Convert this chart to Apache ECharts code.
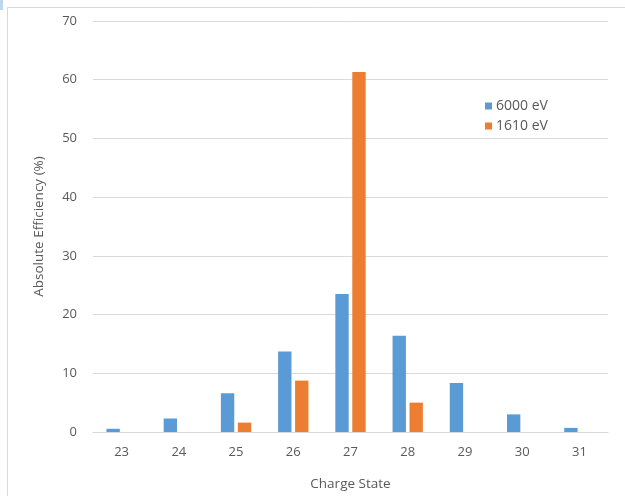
<!DOCTYPE html>
<html>
<head>
<meta charset="utf-8">
<script src="https://cdn.jsdelivr.net/npm/echarts@6/dist/echarts.min.js"></script>
<style>
  html, body { margin: 0; padding: 0; background: #fff; }
  #chart { width: 625px; height: 496px; }
</style>
</head>
<body>
<div id="chart"></div>
<script>
// Charge-state distribution: absolute efficiency per charge state
const chargeStates = ['23', '24', '25', '26', '27', '28', '29', '30', '31'];
const eff6000 = [0.55, 2.3, 6.6, 13.7, 23.5, 16.4, 8.35, 3.0, 0.7];
const eff1610 = [0, 0, 1.6, 8.75, 61.3, 5.0, 0, 0, 0];
const seriesNames = ['6000 eV', '1610 eV'];
const yTicks = { min: 0, max: 70, interval: 10 };

const textColor = '#595959';
const fontFamily = '"Open Sans", "Liberation Sans", sans-serif';

const chart = echarts.init(document.getElementById('chart'), null, { renderer: 'canvas' });
chart.setOption({
  animation: false,
  backgroundColor: '#ffffff',
  textStyle: { fontFamily: fontFamily, color: textColor },
  graphic: [
    {
      type: 'rect',
      shape: { x: 7.5, y: 7.5, width: 700, height: 600 },
      style: { fill: 'none', stroke: '#d9d9d9', lineWidth: 1 },
      silent: true
    },
    {
      type: 'rect',
      shape: { x: 0, y: 0, width: 3, height: 10 },
      style: { fill: '#bdd7ee' },
      silent: true
    }
  ],
  grid: {
    left: 93, right: 17, top: 21, bottom: 64,
    containLabel: false,
    outerBoundsMode: 'none'
  },
  legend: {
    data: seriesNames,
    orient: 'vertical',
    left: 480,
    top: 94,
    itemWidth: 7,
    itemHeight: 7,
    itemGap: 6,
    icon: 'rect',
    textStyle: { color: textColor, fontSize: 14, fontFamily: fontFamily, padding: [0, 0, 0, -1] }
  },
  xAxis: {
    type: 'category',
    data: chargeStates,
    name: 'Charge State',
    nameLocation: 'middle',
    nameGap: 45,
    nameTextStyle: { color: textColor, fontSize: 13.5 },
    axisLine: { lineStyle: { color: '#d9d9d9', width: 1 } },
    axisTick: { show: false },
    axisLabel: { color: textColor, fontSize: 13, margin: 14 }
  },
  yAxis: {
    type: 'value',
    min: yTicks.min,
    max: yTicks.max,
    interval: yTicks.interval,
    name: 'Absolute Efficiency (%)',
    nameLocation: 'middle',
    nameGap: 47,
    nameRotate: 90,
    nameTextStyle: { color: textColor, fontSize: 13.5 },
    axisLine: { show: false },
    axisTick: { show: false },
    axisLabel: { color: textColor, fontSize: 13, margin: 16 },
    splitLine: { lineStyle: { color: '#d9d9d9', width: 1 } }
  },
  series: [
    {
      name: seriesNames[0],
      type: 'bar',
      data: eff6000,
      itemStyle: { color: '#5b9bd5' },
      barGap: '27%',
      barCategoryGap: '47%'
    },
    {
      name: seriesNames[1],
      type: 'bar',
      data: eff1610,
      itemStyle: { color: '#ed7d31' },
      barGap: '27%',
      barCategoryGap: '47%'
    }
  ]
});
</script>
</body>
</html>
